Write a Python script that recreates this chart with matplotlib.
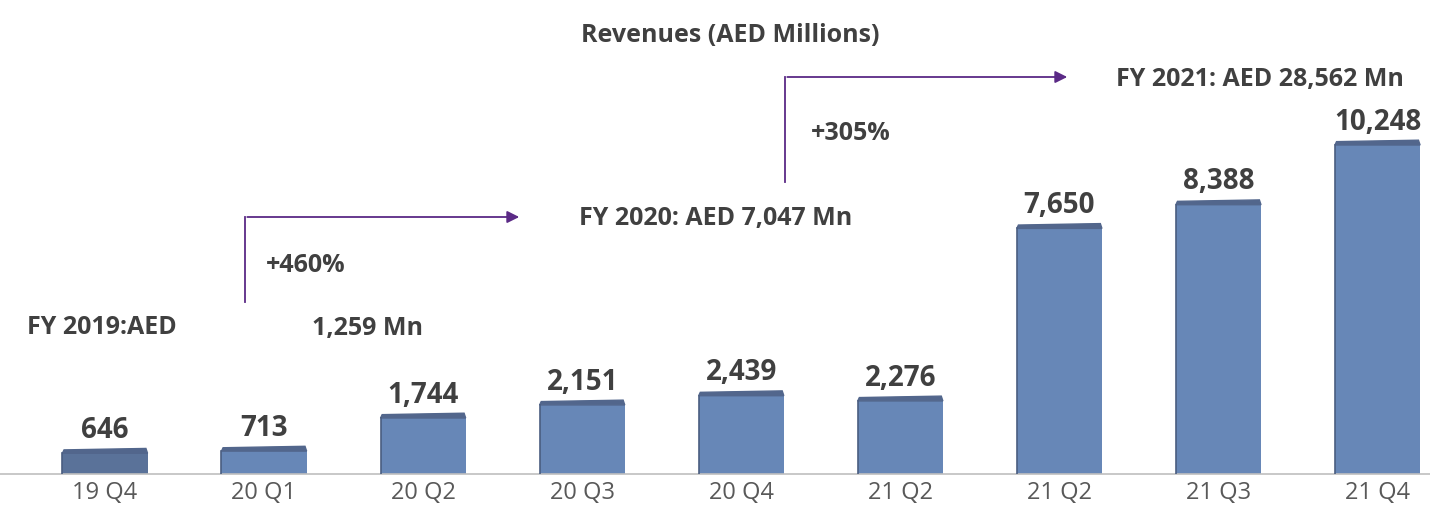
import matplotlib.pyplot as plt
from matplotlib.patches import Polygon

# data
quarters = ['19 Q4', '20 Q1', '20 Q2', '20 Q3', '20 Q4', '21 Q2', '21 Q2', '21 Q3', '21 Q4']
revenues = [646, 713, 1744, 2151, 2439, 2276, 7650, 8388, 10248]
value_labels = ['646', '713', '1,744', '2,151', '2,439', '2,276', '7,650', '8,388', '10,248']
bar_colors = ['#5a7299'] + ['#6787b7'] * 8
top_color = '#52668c'

W, H = 1430, 508
fig = plt.figure(figsize=(W / 100, H / 100), dpi=100)
ax = fig.add_axes([0, 34 / H, 1, 474 / H])

bar_w = 0.535
x = list(range(len(quarters)))
ax.bar(x, revenues, width=bar_w, color=bar_colors, edgecolor='none', zorder=2)

# thin darker top face to give the bars a 3D look
dh = 150
for xi, v in zip(x, revenues):
    face = Polygon([(xi - bar_w / 2, v), (xi + bar_w / 2, v),
                    (xi + bar_w / 2 - 0.01, v + dh), (xi - bar_w / 2 + 0.01, v + dh * 0.7)],
                   closed=True, color=top_color, zorder=3)
    ax.add_patch(face)
    ax.plot([xi - bar_w / 2, xi - bar_w / 2], [0, v], color='#4a5d80', lw=1.2, zorder=3)

for xi, v, lab in zip(x, revenues, value_labels):
    ax.text(xi, v + 260, lab, ha='center', va='bottom', fontsize=20,
            fontweight='bold', color='#404040', family='Open Sans')

ax.set_xlim(-0.66, 8.33)
ax.set_ylim(0, 14765)
ax.set_xticks(x)
ax.set_xticklabels(quarters, fontsize=17, color='#595959', family='Open Sans')
ax.tick_params(axis='x', length=0, pad=5)
ax.set_yticks([])
for s in ['top', 'right', 'left']:
    ax.spines[s].set_visible(False)
ax.spines['bottom'].set_color('#bfbfbf')
ax.spines['bottom'].set_linewidth(1.2)


def fx(px):
    return px / W


def fy(py):
    return 1 - py / H


txt = dict(fontsize=18, fontweight='bold', color='#404040', family='Open Sans', va='center')
fig.text(fx(730), fy(35), 'Revenues (AED Millions)', ha='center', **txt)
fig.text(fx(27), fy(328), 'FY 2019:AED', ha='left', **txt)
fig.text(fx(312), fy(328), '1,259 Mn', ha='left', **txt)
fig.text(fx(266), fy(265), '+460%', ha='left', **txt)
fig.text(fx(579), fy(218), 'FY 2020: AED 7,047 Mn', ha='left', **txt)
fig.text(fx(811), fy(133), '+305%', ha='left', **txt)
fig.text(fx(1116), fy(80), 'FY 2021: AED 28,562 Mn', ha='left', **txt)

# growth arrows
purple = '#5b2a86'
fig.add_artist(plt.Line2D([fx(245), fx(245)], [fy(302), fy(217)], color=purple, lw=1.3,
                          transform=fig.transFigure))
fig.add_artist(plt.Line2D([fx(785), fx(785)], [fy(182), fy(77)], color=purple, lw=1.3,
                          transform=fig.transFigure))
ax.annotate('', xy=(fx(522), fy(217)), xytext=(fx(244.5), fy(217)), xycoords='figure fraction',
            arrowprops=dict(arrowstyle='-|>', color=purple, lw=1.3, mutation_scale=18))
ax.annotate('', xy=(fx(1070), fy(77)), xytext=(fx(784.5), fy(77)), xycoords='figure fraction',
            arrowprops=dict(arrowstyle='-|>', color=purple, lw=1.3, mutation_scale=18))

fig.savefig('out.png', dpi=100)
